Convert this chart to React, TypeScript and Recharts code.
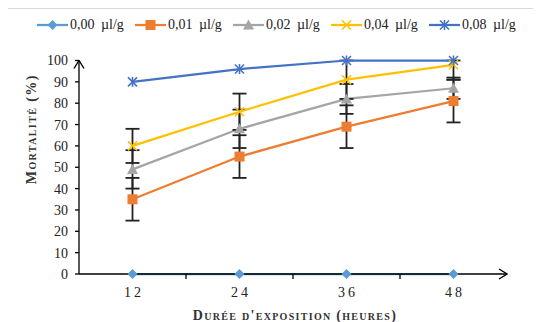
import React from 'react';
import { LineChart, Line, XAxis, YAxis, ErrorBar, Label } from 'recharts';

const hours = [12, 24, 36, 48];
const boundaryTicks = [18, 30, 42];
const yTicks = [0, 10, 20, 30, 40, 50, 60, 70, 80, 90, 100];
const doseLabels = ['0,00 µl/g', '0,01 µl/g', '0,02 µl/g', '0,04 µl/g', '0,08 µl/g'];

const mort000 = [0, 0, 0, 0];
const mort001 = [35, 55, 69, 81];
const mort002 = [49, 68, 82, 87];
const mort004 = [60, 76, 91, 98];
const mort008 = [90, 96, 100, 100];

// [lower, upper] error amounts
const err001 = [[10, 10], [10, 10], [10, 10], [10, 10]];
const err002 = [[9, 9], [9, 9], [7, 7], [5, 5]];
const err004 = [[8, 8], [8.5, 8.5], [9, 9], [7, 2]];

const FONT = '"Liberation Serif", "Times New Roman", serif';

type Shape = 'diamond' | 'square' | 'triangle' | 'cross' | 'star';

const series: { key: string; err?: string; label: string; color: string; shape: Shape }[] = [
  { key: 's0', label: doseLabels[0], color: '#5B9BD5', shape: 'diamond' },
  { key: 's1', err: 'e1', label: doseLabels[1], color: '#ED7D31', shape: 'square' },
  { key: 's2', err: 'e2', label: doseLabels[2], color: '#A5A5A5', shape: 'triangle' },
  { key: 's3', err: 'e3', label: doseLabels[3], color: '#FFC000', shape: 'cross' },
  { key: 's4', label: doseLabels[4], color: '#4472C4', shape: 'star' },
];

const data = hours.map((h, i) => ({
  h,
  s0: mort000[i],
  s1: mort001[i],
  s2: mort002[i],
  s3: mort004[i],
  s4: mort008[i],
  e1: err001[i],
  e2: err002[i],
  e3: err004[i],
}));

function Marker({ shape, cx, cy, color }: { shape: Shape; cx: number; cy: number; color: string }) {
  switch (shape) {
    case 'diamond':
      return <polygon points={`${cx},${cy - 5} ${cx + 5},${cy} ${cx},${cy + 5} ${cx - 5},${cy}`} fill={color} />;
    case 'square':
      return <rect x={cx - 5} y={cy - 5} width={10} height={10} fill={color} />;
    case 'triangle':
      return <polygon points={`${cx},${cy - 5.5} ${cx + 5.5},${cy + 4.5} ${cx - 5.5},${cy + 4.5}`} fill={color} />;
    case 'cross':
      return (
        <g stroke={color} strokeWidth={1.6}>
          <line x1={cx - 4.5} y1={cy - 4.5} x2={cx + 4.5} y2={cy + 4.5} />
          <line x1={cx - 4.5} y1={cy + 4.5} x2={cx + 4.5} y2={cy - 4.5} />
        </g>
      );
    case 'star':
    default:
      return (
        <g stroke={color} strokeWidth={1.6}>
          <line x1={cx - 4.5} y1={cy - 4.5} x2={cx + 4.5} y2={cy + 4.5} />
          <line x1={cx - 4.5} y1={cy + 4.5} x2={cx + 4.5} y2={cy - 4.5} />
          <line x1={cx} y1={cy - 5} x2={cx} y2={cy + 5} />
        </g>
      );
  }
}

const makeDot = (shape: Shape, color: string) => (props: any) => {
  const { cx, cy, index, dataKey } = props;
  if (cx == null || cy == null) return <g key={`${dataKey}-${index}`} />;
  return (
    <g key={`${dataKey}-${index}`}>
      <Marker shape={shape} cx={cx} cy={cy} color={color} />
    </g>
  );
};

const XTick = (props: any) => {
  const { x, y, payload } = props;
  if (boundaryTicks.includes(payload.value)) {
    return <line x1={x} x2={x} y1={y - 5} y2={y} stroke="#000" strokeWidth={1.3} />;
  }
  return (
    <text x={x} y={y + 18} dx={1.5} textAnchor="middle" fontSize={14} letterSpacing={3} fill="#222" fontFamily={FONT}>
      {payload.value}
    </text>
  );
};

const YTitle = (props: any) => {
  const vb = props.viewBox || { x: 0, y: 0, width: 0, height: 0 };
  const x = vb.x + 23;
  const y = vb.y + vb.height * 0.322;
  return (
    <text
      transform={`translate(${x},${y}) rotate(-90)`}
      textAnchor="middle"
      dominantBaseline="central"
      fontSize={14}
      fontWeight="bold"
      letterSpacing={1.4}
      fill="#333"
      fontFamily={FONT}
      style={{ fontVariant: 'small-caps' }}
    >
      Mortalité (%)
    </text>
  );
};

const XTitle = (props: any) => {
  const vb = props.viewBox || { x: 0, y: 0, width: 0, height: 0 };
  return (
    <text
      x={vb.x + vb.width / 2 + 2}
      y={vb.y + vb.height - 2.5}
      textAnchor="middle"
      fontSize={14}
      fontWeight="bold"
      letterSpacing={1.3}
      fill="#333"
      fontFamily={FONT}
      style={{ fontVariant: 'small-caps' }}
    >
      Durée d'exposition (heures)
    </text>
  );
};

export default function App() {
  return (
    <div
      style={{
        position: 'relative',
        width: 534,
        height: 314,
        marginLeft: -1,
        borderLeft: '1px solid #d9d9d9',
        borderTop: '1px solid #d9d9d9',
        boxSizing: 'border-box',
        fontFamily: FONT,
        background: '#fff',
      }}
    >
      <svg width={0} height={0} style={{ position: 'absolute' }}>
        <defs>
          <marker
            id="axArrow"
            viewBox="0 0 10 12"
            refX={9}
            refY={6}
            markerWidth={10}
            markerHeight={12}
            markerUnits="userSpaceOnUse"
            orient="auto-start-reverse"
          >
            <path d="M1,1 L9,6 L1,11" fill="none" stroke="#000" strokeWidth={1.4} />
          </marker>
        </defs>
      </svg>
      <LineChart width={533} height={313} data={data} margin={{ top: 51.5, right: 34, bottom: 0, left: 0 }}>
        <XAxis
          dataKey="h"
          type="number"
          domain={[6, 54]}
          ticks={[12, 18, 24, 30, 36, 42, 48]}
          interval={0}
          tickLine={false}
          tickSize={5}
          tickMargin={0}
          axisLine={{ stroke: '#000', strokeWidth: 1.3, markerEnd: 'url(#axArrow)' } as any}
          tick={<XTick />}
          height={48}
        >
          <Label content={<XTitle />} />
        </XAxis>
        <YAxis
          type="number"
          domain={[0, 100]}
          ticks={yTicks}
          interval={0}
          width={71}
          tickSize={4}
          tickMargin={7}
          tickLine={{ stroke: '#000', strokeWidth: 1.3 }}
          axisLine={{ stroke: '#000', strokeWidth: 1.3, markerStart: 'url(#axArrow)' } as any}
          tick={{ fontSize: 14, fill: '#222', fontFamily: FONT }}
        >
          <Label content={<YTitle />} />
        </YAxis>
        {series.map((s) => (
          <Line
            key={s.key}
            dataKey={s.key}
            stroke={s.color}
            strokeWidth={2.25}
            dot={makeDot(s.shape, s.color)}
            activeDot={false}
            isAnimationActive={false}
          >
            {s.err ? <ErrorBar dataKey={s.err} width={7} stroke="#222" strokeWidth={1.8} direction="y" /> : null}
          </Line>
        ))}
      </LineChart>
      <div
        style={{
          position: 'absolute',
          left: 29,
          top: 8,
          display: 'flex',
          fontSize: 14,
          color: '#222',
          lineHeight: '16px',
        }}
      >
        {series.map((s) => (
          <div key={s.key} style={{ display: 'flex', alignItems: 'center', width: 98 }}>
            <svg width={31} height={16}>
              <line x1={0} x2={31} y1={8} y2={8} stroke={s.color} strokeWidth={2.25} />
              <Marker shape={s.shape} cx={15.5} cy={8} color={s.color} />
            </svg>
            <span style={{ marginLeft: 2, wordSpacing: 3, whiteSpace: 'nowrap' }}>{s.label}</span>
          </div>
        ))}
      </div>
    </div>
  );
}
